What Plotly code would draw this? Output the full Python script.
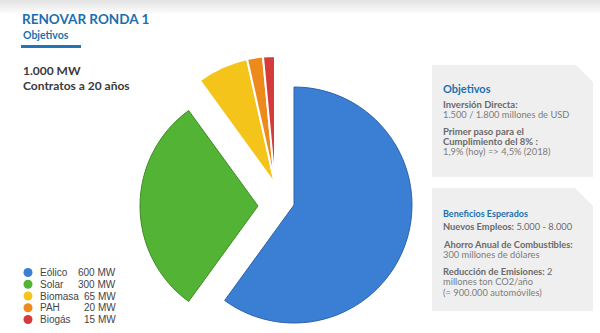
import plotly.graph_objects as go

# ---- data ----
labels = ["Eólico", "Solar", "Biomasa", "PAH", "Biogás"]
values_mw = [600, 300, 65, 20, 15]
value_text = ["600 MW", "300 MW", "65 MW", "20 MW", "15 MW"]
colors = ["#3a7fd3", "#52b335", "#f5c41a", "#ee8a1c", "#d63b3b"]
edge_colors = ["#2d64a8", "#3f8c26", "#d9a40e", "#c96d10", "#a82828"]

W, H = 600, 333
def px(x):
    return x / W
def py(y):
    return 1 - y / H

TRANSPARENT = "rgba(0,0,0,0)"
fig = go.Figure()

# each group of slices drawn as its own (exploded) pie, with the other slices transparent
groups = [
    ([0], (294, 205), 118, "edge"),      # Eólico
    ([1], (258, 206), 118, "edge"),      # Solar
    ([2, 3, 4], (275, 184), 128, "white"),  # Biomasa, PAH, Biogás
]
for idx, (cx, cy), r, style in groups:
    cols = [colors[i] if i in idx else TRANSPARENT for i in range(len(labels))]
    if style == "edge":
        lcol = [edge_colors[i] if i in idx else TRANSPARENT for i in range(len(labels))]
        lw = [1 if i in idx else 0 for i in range(len(labels))]
    else:
        lcol = ["white" if i in idx else TRANSPARENT for i in range(len(labels))]
        lw = [2 if i in idx else 0 for i in range(len(labels))]
    fig.add_trace(go.Pie(
        labels=labels, values=values_mw, sort=False, direction="clockwise",
        rotation=0, textinfo="none", hoverinfo="skip",
        marker=dict(colors=cols, line=dict(color=lcol, width=lw)),
        domain=dict(x=[px(cx - r), px(cx + r)], y=[py(cy + r), py(cy - r)]),
        showlegend=False,
    ))

# legend markers
rows = list(range(len(labels)))
fig.add_trace(go.Scatter(
    x=[28] * len(labels), y=[4 - i for i in rows], mode="markers",
    marker=dict(size=9, color=colors, symbol="circle"),
    xaxis="x", yaxis="y", showlegend=False, hoverinfo="skip",
))

annotations = []
for i, (lab, vt) in enumerate(zip(labels, value_text)):
    annotations.append(dict(x=38, y=4 - i, xref="x", yref="y", text=lab, showarrow=False,
                            xanchor="left", yanchor="middle",
                            font=dict(family="Liberation Sans", size=10, color="#444")))
    annotations.append(dict(x=118, y=4 - i, xref="x", yref="y", text=vt, showarrow=False,
                            xanchor="right", yanchor="middle",
                            font=dict(family="Liberation Sans", size=10, color="#444")))

BLUE = "#1b6fae"
GRAY = "#6a6a6a"
LGRAY = "#7c7c7c"
FONT = "Lato"

def txt(x, y, s, size=9, color=GRAY, bold=False):
    if bold:
        s = "<b>" + s + "</b>"
    annotations.append(dict(x=px(x), y=py(y), xref="paper", yref="paper", text=s,
                            showarrow=False, xanchor="left", yanchor="middle",
                            font=dict(family=FONT, size=size, color=color)))

txt(20, 19, "RENOVAR RONDA 1", 13.5, BLUE, True)
txt(21, 35, "Objetivos", 10.5, BLUE, True)
txt(21, 70, "1.000 MW", 12, "#3a3a3a", True)
txt(21, 85, "Contratos a 20 años", 12, "#3a3a3a", True)

txt(441, 88, "Objetivos", 11, BLUE, True)
txt(441, 104, "Inversión Directa:", 9.5, GRAY, True)
txt(441, 114.5, "1.500 / 1.800 millones de USD", 9.3, LGRAY)
txt(441, 132, "Primer paso para el", 9.5, GRAY, True)
txt(441, 142, "Cumplimiento del 8% :", 9.5, GRAY, True)
txt(441, 152, "1,9% (hoy) => 4,5% (2018)", 9.3, LGRAY)

txt(441, 214, "Beneficios Esperados", 9, BLUE, True)
txt(441, 226.5, "<b>Nuevos Empleos:</b> 5.000 - 8.000", 9.3, GRAY)
txt(441, 244, "Ahorro Anual de Combustibles:", 9.3, GRAY, True)
txt(441, 254, "300 millones de dólares", 9.3, LGRAY)
txt(441, 271.5, "<b>Reducción de Emisiones:</b> 2", 9.3, GRAY)
txt(441, 281.5, "millones ton CO2/año", 9.3, LGRAY)
txt(441, 292, "(= 900.000 automóviles)", 9.3, LGRAY)

shapes = []
# top gray gradient band
for k in range(14):
    shapes.append(dict(type="rect", xref="paper", yref="paper", x0=0, x1=1,
                       y0=py(k + 1), y1=py(k), line=dict(width=0),
                       fillcolor="rgba(205,205,205,%.3f)" % (0.55 * (1 - k / 14)), layer="below"))
# underline bar
shapes.append(dict(type="rect", xref="paper", yref="paper", x0=px(21), x1=px(81),
                   y0=py(48), y1=py(45), line=dict(width=0), fillcolor="#1f75b5"))

def box_path(x0, y0, x1, y1, cut):
    return "M %f %f L %f %f L %f %f L %f %f L %f %f Z" % (
        px(x0), py(y0), px(x1 - cut), py(y0), px(x1), py(y0 + cut), px(x1), py(y1), px(x0), py(y1))

shapes.append(dict(type="path", xref="paper", yref="paper", path=box_path(432, 65, 593, 177, 17),
                   fillcolor="#efefef", line=dict(width=0), layer="below"))
shapes.append(dict(type="path", xref="paper", yref="paper", path=box_path(432, 188, 593, 311, 18),
                   fillcolor="#efefef", line=dict(width=0), layer="below"))

fig.update_layout(
    width=W, height=H, margin=dict(l=0, r=0, t=0, b=0),
    paper_bgcolor="white", plot_bgcolor="rgba(0,0,0,0)",
    xaxis=dict(domain=[0, 0.25], range=[0, 150], visible=False, fixedrange=True),
    yaxis=dict(domain=[0.0229, 0.1993], range=[-0.5, 4.5], visible=False, fixedrange=True),
    annotations=annotations, shapes=shapes, showlegend=False,
)

fig.write_html("out.html")
